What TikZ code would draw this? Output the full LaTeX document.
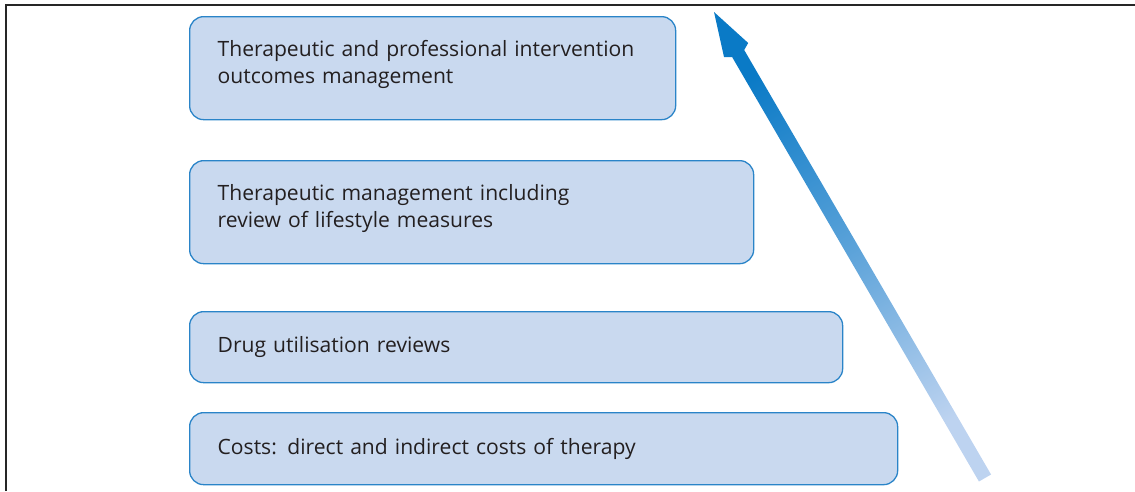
\documentclass[tikz,border=0pt]{standalone}
\usepackage{fontspec}
\setmainfont{Open Sans}
\begin{document}
\begin{tikzpicture}[x=1pt,y=-1pt,
  boxnode/.style={draw=boxline, fill=boxfill, line width=1.3pt, rounded corners=14pt,
    anchor=north west, align=left, inner xsep=28pt, inner ysep=0pt,
    text=textcol, font=\fontsize{21.1}{27}\selectfont},
  frameline/.style={line width=1.8pt, draw=black!85}]
\definecolor{boxline}{HTML}{2A84C8}
\definecolor{boxfill}{HTML}{C9D9EF}
\definecolor{textcol}{HTML}{231F20}
\definecolor{arrdark}{HTML}{0A7AC6}
\definecolor{arrlight}{HTML}{BDD3F0}
\useasboundingbox (0,0) rectangle (1135,491);
% frame (cropped)
\coordinate (fbl) at (6,491);
\coordinate (ftl) at (6,5);
\coordinate (ftr) at (1135,5);
\draw[frameline] (fbl) -- (ftl) -- (ftr);
% boxes
\node[boxnode, minimum width=486pt, minimum height=103pt, text width=430pt] (b1) at (189,16)
  {Therapeutic and professional intervention\\outcomes management\par\vspace{7pt}};
\node[boxnode, minimum width=564pt, minimum height=103pt, text width=508pt] (b2) at (189,160)
  {Therapeutic management including\\review of lifestyle measures\par\vspace{7pt}};
\node[boxnode, minimum width=653pt, minimum height=71pt, text width=597pt] (b3) at (189,311)
  {Drug utilisation reviews};
\node[boxnode, minimum width=708pt, minimum height=72pt, text width=652pt] (b4) at (189,412)
  {Costs: direct and indirect costs of therapy};
% arrow
\coordinate (atip) at (714,12);
\coordinate (abr) at (748.2,43.0);
\coordinate (ajr) at (744.2,50.0);
\coordinate (asr) at (991.05,474.5);
\coordinate (asl) at (978.95,481.5);
\coordinate (ajl) at (732.1,57.0);
\coordinate (abl) at (724.0,57.0);
\shade[top color=arrdark, bottom color=arrlight, middle color=arrdark!55!arrlight, shading angle=30]
  (atip) -- (abr) -- (ajr) -- (asr) -- (asl) -- (ajl) -- (abl) -- cycle;
\end{tikzpicture}
\end{document}
